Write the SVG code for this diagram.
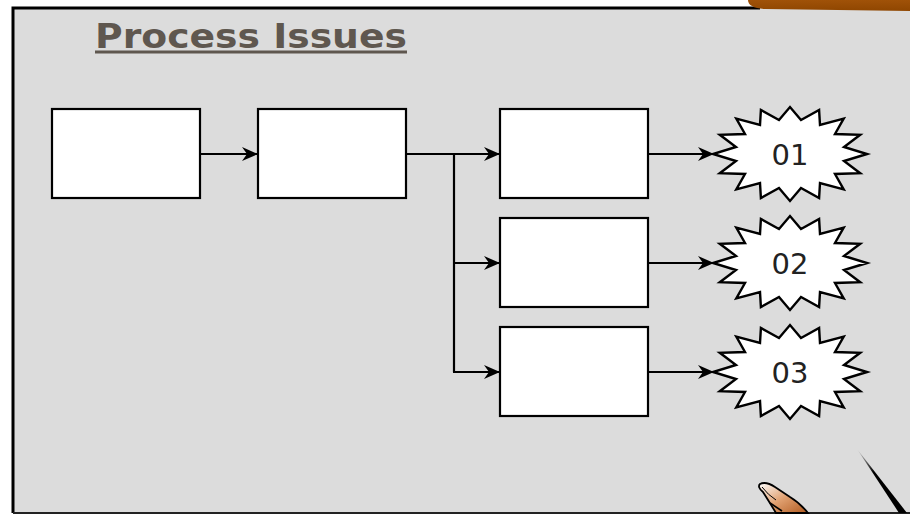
<svg xmlns="http://www.w3.org/2000/svg" width="910" height="515" viewBox="0 0 910 515">
  <style>
    .box { fill: #ffffff; stroke: #000000; stroke-width: 2.2; }
    .star { fill: #ffffff; stroke: #000000; stroke-width: 2.4; stroke-linejoin: miter; }
    .wire { fill: none; stroke: #000000; stroke-width: 2.2; }
    .label { font-family: "DejaVu Sans", Verdana, sans-serif; font-size: 29px; fill: #222222; text-anchor: middle; }
    .title { font-family: "DejaVu Sans", Verdana, sans-serif; font-weight: bold; font-size: 34px; fill: #5f574f; }
  </style>
  <defs>
    <marker id="arrow" viewBox="0 0 16 14" refX="16" refY="7" markerWidth="16" markerHeight="14" markerUnits="userSpaceOnUse" orient="auto">
      <path d="M0,0 L16,7 L0,14 L5,7 Z" fill="#000000"/>
    </marker>
    <!-- 16-point starburst centred on the origin -->
    <polygon id="burst" points="77,0 54,7 70.2,19.2 45,20 53.7,35.4 30,29 29.1,44 11,34 0,47 -11,34 -29.1,44 -30,29 -53.7,35.4 -45,20 -70.2,19.2 -54,7 -77,0 -54,-7 -70.2,-19.2 -45,-20 -53.7,-35.4 -30,-29 -29.1,-44 -11,-34 0,-47 11,-34 29.1,-44 30,-29 53.7,-35.4 45,-20 70.2,-19.2 54,-7"/>
    <linearGradient id="bar" x1="0" y1="0" x2="0" y2="1">
      <stop offset="0" stop-color="#a05208"/>
      <stop offset="1" stop-color="#8f4600"/>
    </linearGradient>
    <linearGradient id="stick" x1="0" y1="0" x2="1" y2="1">
      <stop offset="0" stop-color="#000000" stop-opacity="0"/>
      <stop offset="0.35" stop-color="#000000"/>
      <stop offset="1" stop-color="#000000"/>
    </linearGradient>
    <linearGradient id="skin" x1="0" y1="0" x2="1" y2="1">
      <stop offset="0" stop-color="#ffffff"/>
      <stop offset="0.5" stop-color="#e0a070"/>
      <stop offset="1" stop-color="#b05a20"/>
    </linearGradient>
  </defs>

  <!-- board -->
  <rect x="0" y="0" width="910" height="515" fill="#ffffff"/>
  <rect x="13" y="8" width="900" height="505" fill="#dcdcdc"/>
  <path d="M13,513 L13,8 L760,8" fill="none" stroke="#000000" stroke-width="3"/>
  <line x1="13" y1="513" x2="910" y2="513" stroke="#222222" stroke-width="2"/>

  <!-- ledge across the top right -->
  <path d="M748,0 L910,0 L910,11 L765,9 Q748,8 748,0 Z" fill="url(#bar)"/>

  <!-- heading -->
  <g id="title">
    <text class="title" x="95" y="48" textLength="312" lengthAdjust="spacingAndGlyphs">Process Issues</text>
    <line x1="95" y1="52" x2="407" y2="52" stroke="#5f574f" stroke-width="3"/>
  </g>

  <!-- steps -->
  <g id="step1"><rect class="box" x="52" y="109" width="148" height="89"/></g>
  <g id="step2"><rect class="box" x="258" y="109" width="148" height="89"/></g>
  <g id="branch1"><rect class="box" x="500" y="109" width="148" height="89"/></g>
  <g id="branch2"><rect class="box" x="500" y="218" width="148" height="89"/></g>
  <g id="branch3"><rect class="box" x="500" y="327" width="148" height="89"/></g>

  <!-- outcomes -->
  <g id="issue01">
    <use href="#burst" class="star" transform="translate(790,154)"/>
    <text class="label" x="790" y="165">01</text>
  </g>
  <g id="issue02">
    <use href="#burst" class="star" transform="translate(790,263)"/>
    <text class="label" x="790" y="274">02</text>
  </g>
  <g id="issue03">
    <use href="#burst" class="star" transform="translate(790,372)"/>
    <text class="label" x="790" y="383">03</text>
  </g>

  <!-- connectors -->
  <g id="connectors">
    <line class="wire" x1="200" y1="154" x2="258" y2="154" marker-end="url(#arrow)"/>
    <line class="wire" x1="406" y1="154" x2="500" y2="154" marker-end="url(#arrow)"/>
    <path class="wire" d="M454,154 L454,372"/>
    <line class="wire" x1="453" y1="263" x2="500" y2="263" marker-end="url(#arrow)"/>
    <line class="wire" x1="453" y1="372" x2="500" y2="372" marker-end="url(#arrow)"/>
    <line class="wire" x1="648" y1="154" x2="714" y2="154" marker-end="url(#arrow)"/>
    <line class="wire" x1="648" y1="263" x2="714" y2="263" marker-end="url(#arrow)"/>
    <line class="wire" x1="648" y1="372" x2="714" y2="372" marker-end="url(#arrow)"/>
  </g>

  <!-- pointer and hand at the lower right -->
  <polygon points="857,449 907,513 899,513" fill="url(#stick)"/>
  <path d="M760,484 Q766,481 775,487 L790,497 Q800,503 808,513 L776,513 Q770,503 763,492 Q757,487 760,484 Z" fill="url(#skin)" stroke="#000000" stroke-width="1.8"/>
  <path d="M762,487 Q768,495 776,500" fill="none" stroke="#000000" stroke-width="1"/>
  <path d="M770,503 L782,511" fill="none" stroke="#000000" stroke-width="1.6"/>
</svg>
